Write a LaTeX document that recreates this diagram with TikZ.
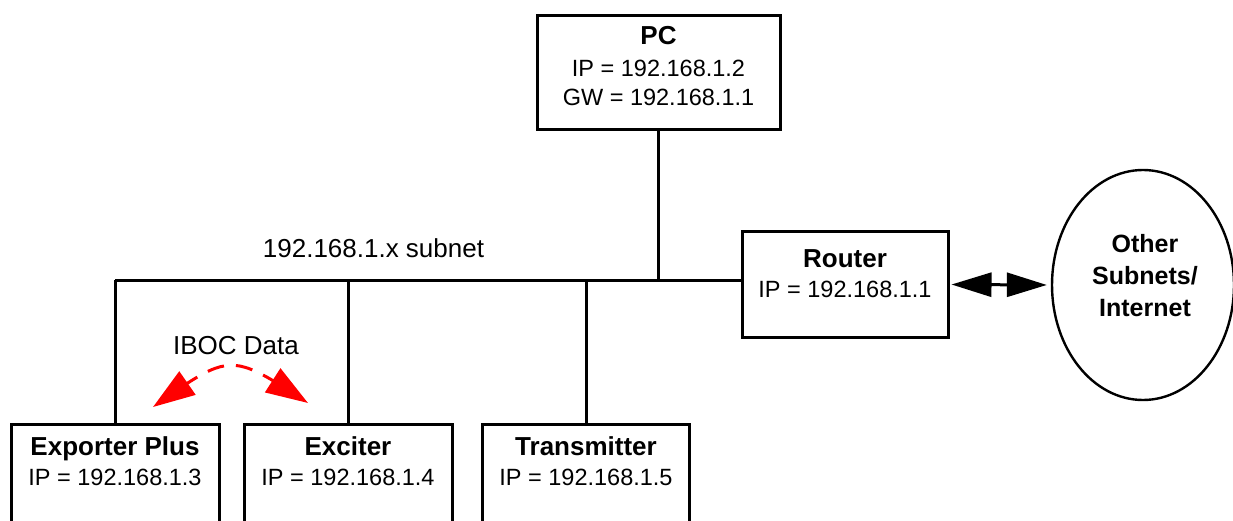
\documentclass[tikz,border=0pt]{standalone}
\usepackage{fontspec}
\setmainfont{Liberation Sans}
\usetikzlibrary{arrows.meta,bending,shapes.geometric}
\begin{document}
\begin{tikzpicture}[x=1pt,y=-1pt,
  box/.style={draw, line width=3pt, inner sep=0pt},
  wire/.style={line width=3pt},
  ttl/.style={font=\fontsize{26}{30}\selectfont\bfseries, anchor=base, inner sep=0pt},
  ipl/.style={font=\fontsize{23.5}{28}\selectfont, anchor=base, inner sep=0pt},
  lbl/.style={font=\fontsize{26}{30}\selectfont, anchor=base, inner sep=0pt},
  blkarrow/.style={line width=3pt, {Triangle[length=40pt,width=24pt]}-{Triangle[length=40pt,width=24pt]}},
  redarrow/.style={red, line width=3pt, dash pattern=on 17pt off 12pt,
    {Triangle[length=42pt,width=28pt,flex=1]}-{Triangle[length=42pt,width=28pt,flex=1]}}]
\useasboundingbox (0,0) rectangle (1233,521);
\clip (0,0) rectangle (1233,521);
\fill[white] (0,0) rectangle (1233,521);

% boxes
\node[box, minimum width=243pt, minimum height=114pt] (pc) at (658.5,72.5) {};
\node[box, minimum width=206pt, minimum height=105pt] (router) at (845,284.5) {};
\node[box, anchor=north, minimum width=208pt, minimum height=150pt] (exp) at (115,423) {};
\node[box, anchor=north, minimum width=208pt, minimum height=150pt] (exc) at (348,423) {};
\node[box, anchor=north, minimum width=207pt, minimum height=150pt] (tx) at (586,423) {};
\node[draw, ellipse, line width=2.4pt, minimum width=182pt, minimum height=230pt, inner sep=0pt] (cloud) at (1143,285) {};

% texts
\node[ttl] (pct) at (658.5,45) {PC};
\node[ipl] (pcip) at (658.5,77) {IP = 192.168.1.2};
\node[ipl] (pcgw) at (658.5,106) {GW = 192.168.1.1};
\node[ttl] (rtt) at (845,267) {Router};
\node[ipl] (rtip) at (845,297) {IP = 192.168.1.1};
\node[ttl] (expt) at (115,455) {Exporter Plus};
\node[ipl] (expip) at (115,485) {IP = 192.168.1.3};
\node[ttl] (exct) at (348,455) {Exciter};
\node[ipl] (excip) at (348,485) {IP = 192.168.1.4};
\node[ttl] (txt) at (586,455) {Transmitter};
\node[ipl] (txip) at (586,485) {IP = 192.168.1.5};
\node[ttl, font=\fontsize{25}{30}\selectfont\bfseries] (cl1) at (1145,252) {Other};
\node[ttl, font=\fontsize{25}{30}\selectfont\bfseries] (cl2) at (1145,284) {Subnets/};
\node[ttl, font=\fontsize{25}{30}\selectfont\bfseries] (cl3) at (1145,316) {Internet};
\node[lbl] (subnet) at (373.5,258) {192.168.1.x subnet};
\node[lbl] (iboc) at (236,354) {IBOC Data};

% wiring
\coordinate (busL) at (115,280);
\draw[wire] (busL) -- (busL -| router.west);
\draw[wire] (pc.south) -- (pc.south |- busL);
\draw[wire] (exp.north) -- (exp.north |- busL);
\draw[wire] (exc.north) -- (exc.north |- busL);
\draw[wire] (tx.north) -- (tx.north |- busL);
\draw[blkarrow, shorten <=2pt, shorten >=4pt] (router.east) -- (cloud.west);

% IBOC data arrow
\coordinate (a1) at (153,407);
\coordinate (a2) at (308,403);
\draw[redarrow] (a1) .. controls (231,352) and (230,352) .. (a2);
\end{tikzpicture}
\end{document}
